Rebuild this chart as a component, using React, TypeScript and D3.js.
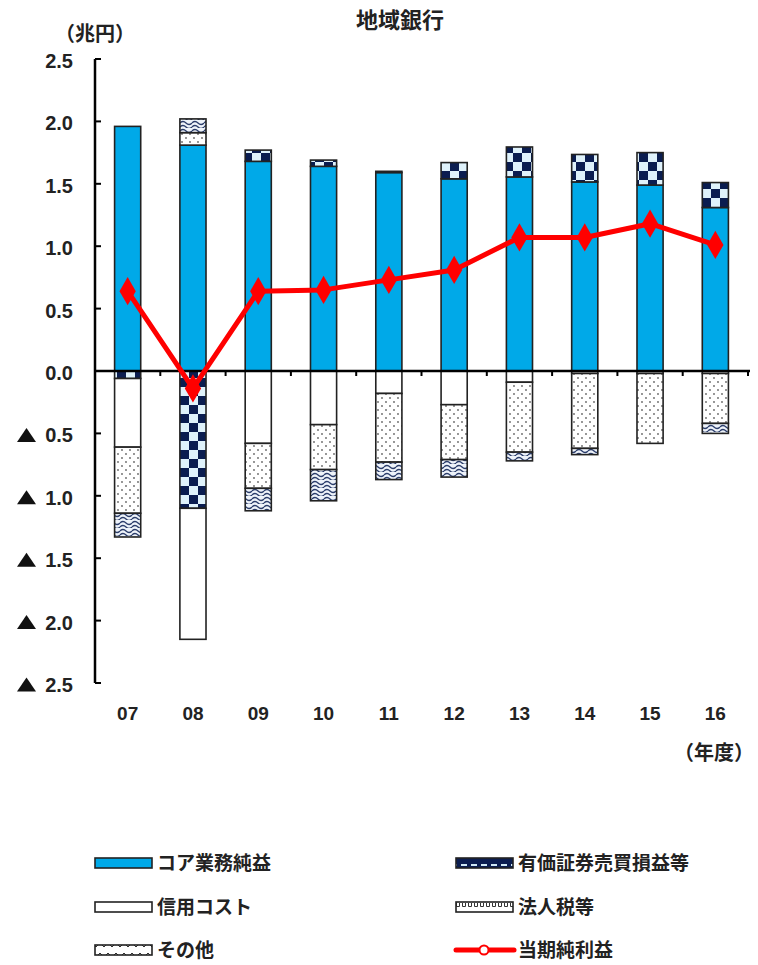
import React from "react";
import * as d3 from "d3";

const years = ["07", "08", "09", "10", "11", "12", "13", "14", "15", "16"];
const core = [1.96, 1.81, 1.68, 1.64, 1.59, 1.54, 1.555, 1.515, 1.49, 1.31];
const securities = [-0.06, -1.1, 0.09, 0.05, 0.01, 0.13, 0.24, 0.22, 0.26, 0.2];
const credit = [-0.55, -1.05, -0.58, -0.43, -0.18, -0.27, -0.09, -0.02, -0.02, -0.02];
const tax = [-0.53, 0.1, -0.36, -0.36, -0.55, -0.44, -0.56, -0.6, -0.56, -0.4];
const other = [-0.19, 0.11, -0.18, -0.25, -0.14, -0.14, -0.07, -0.05, 0, -0.08];
const netIncome = [0.64, -0.14, 0.64, 0.65, 0.73, 0.81, 1.07, 1.07, 1.18, 1.01];
const yTicks = [2.5, 2.0, 1.5, 1.0, 0.5, 0, -0.5, -1.0, -1.5, -2.0, -2.5];

const seriesKeys = ["core", "securities", "credit", "tax", "other"];
const seriesNames: Record<string, string> = {
  core: "コア業務純益",
  securities: "有価証券売買損益等",
  credit: "信用コスト",
  tax: "法人税等",
  other: "その他",
};
const fills: Record<string, string> = {
  core: "#00a9e8",
  securities: "url(#pSec)",
  credit: "#ffffff",
  tax: "url(#pTax)",
  other: "url(#pOther)",
};
const legendFills: Record<string, string> = {
  core: "#00a9e8",
  securities: "url(#pSecL)",
  credit: "#ffffff",
  tax: "url(#pTaxL)",
  other: "url(#pOtherL)",
};

const FONT = "'Liberation Sans', Arial, sans-serif";
const JFONT = "'Noto Sans CJK JP', 'Liberation Sans', sans-serif";

export default function App() {
  const W = 758, H = 965;
  const x0 = 95, x1 = 748;
  const y = d3.scaleLinear().domain([-2.5, 2.5]).range([683, 59]);
  const x = d3.scaleBand<string>().domain(years).range([x0, x1]).paddingInner(0.6).paddingOuter(0.3);
  const band = d3.scaleBand<string>().domain(years).range([x0, x1]);
  const cx = (yr: string) => (x(yr) as number) + x.bandwidth() / 2;

  const rows = years.map((yr, i) => ({
    year: yr,
    core: core[i],
    securities: securities[i],
    credit: credit[i],
    tax: tax[i],
    other: other[i],
  }));
  const stack = d3
    .stack<any>()
    .keys(seriesKeys)
    .order(d3.stackOrderNone)
    .offset(d3.stackOffsetDiverging);
  const stacked = stack(rows);

  const line = d3
    .line<number>()
    .x((_, i) => cx(years[i]))
    .y((d) => y(d));

  const diamond = d3.symbol().type(d3.symbolDiamond).size(230)();

  const legendLeft = [
    { key: "core", y: 863 },
    { key: "credit", y: 907 },
    { key: "other", y: 950 },
  ];
  const legendRight = [
    { key: "securities", y: 863 },
    { key: "tax", y: 907 },
  ];

  return (
    <svg width={W} height={H} style={{ display: "block", position: "absolute", left: 0, top: 0 }}>
      <defs>
        <pattern id="pSec" width="18" height="18" patternUnits="userSpaceOnUse" x={0} y={0}>
          <rect width="18" height="18" fill="#dff2fb" />
          <rect width="9" height="9" fill="#0b1d50" />
          <rect x="9" y="9" width="9" height="9" fill="#0b1d50" />
        </pattern>
        <pattern id="pTax" width="8" height="8" patternUnits="userSpaceOnUse">
          <rect width="8" height="8" fill="#ffffff" />
          <circle cx="2" cy="2" r="0.9" fill="#666" />
          <circle cx="6" cy="6" r="0.9" fill="#666" />
        </pattern>
        <pattern id="pOther" width="12" height="8" patternUnits="userSpaceOnUse">
          <rect width="12" height="8" fill="#eef3fa" />
          <path d="M0,3 Q3,0 6,3 T12,3" stroke="#2b3d6b" strokeWidth="1.3" fill="none" />
          <path d="M0,7 Q3,4 6,7 T12,7" stroke="#2b3d6b" strokeWidth="1.3" fill="none" />
        </pattern>
        <pattern id="pSecL" width="10" height="10" patternUnits="userSpaceOnUse">
          <rect width="10" height="10" fill="#0b1d50" />
          <rect x="1" y="4" width="6" height="2" fill="#cfe8f5" />
        </pattern>
        <pattern id="pTaxL" width="6" height="10" patternUnits="userSpaceOnUse">
          <rect width="6" height="10" fill="#ffffff" />
          <path d="M0.5,3 V6.5 H3.5 V3" stroke="#333" strokeWidth="1" fill="none" />
        </pattern>
        <pattern id="pOtherL" width="8" height="10" patternUnits="userSpaceOnUse">
          <rect width="8" height="10" fill="#ffffff" />
          <path d="M0,7 L4,3 L8,7" stroke="#333" strokeWidth="1" fill="none" />
        </pattern>
      </defs>

      {/* title */}
      <text x={400} y={28} textAnchor="middle" fontFamily={JFONT} fontWeight="bold" fontSize={22} fill="#222">
        地域銀行
      </text>
      <text x={95} y={41} textAnchor="middle" fontFamily={JFONT} fontWeight="bold" fontSize={20} fill="#222">
        （兆円）
      </text>

      {/* bars */}
      {stacked.map((s) =>
        s.map((d, i) => {
          const h = Math.abs(y(d[0]) - y(d[1]));
          if (h < 0.5) return null;
          return (
            <rect
              key={s.key + i}
              x={x(years[i])}
              y={Math.min(y(d[0]), y(d[1]))}
              width={x.bandwidth()}
              height={h}
              fill={fills[s.key]}
              stroke="#222"
              strokeWidth={1.6}
            />
          );
        })
      )}

      {/* y axis */}
      <line x1={x0} x2={x0} y1={y(2.5)} y2={y(-2.5)} stroke="#000" strokeWidth={2.5} />
      {yTicks.map((t) => (
        <g key={t}>
          <line x1={x0} x2={x0 + 6} y1={y(t)} y2={y(t)} stroke="#000" strokeWidth={2} />
          <text
            x={73}
            y={y(t) + 9}
            textAnchor="end"
            fontFamily={FONT}
            fontWeight="bold"
            fontSize={20}
            fill="#222"
          >
            {Math.abs(t).toFixed(1)}
          </text>
          {t < 0 && (
            <path
              d={`M${17},${y(t) + 8.5} L${36},${y(t) + 8.5} L${26.5},${y(t) - 5.5} Z`}
              fill="#111"
            />
          )}
        </g>
      ))}

      {/* x axis */}
      <line x1={x0} x2={x1 + 2} y1={y(0)} y2={y(0)} stroke="#000" strokeWidth={2.5} />
      {years.map((yr) => (
        <line
          key={"t" + yr}
          x1={(band(yr) as number) + band.bandwidth()}
          x2={(band(yr) as number) + band.bandwidth()}
          y1={y(0)}
          y2={y(0) + 5}
          stroke="#000"
          strokeWidth={2}
        />
      ))}
      {years.map((yr) => (
        <text
          key={"l" + yr}
          x={cx(yr)}
          y={720}
          textAnchor="middle"
          fontFamily={FONT}
          fontWeight="bold"
          fontSize={19}
          fill="#222"
        >
          {yr}
        </text>
      ))}
      <text x={714} y={760} textAnchor="middle" fontFamily={JFONT} fontWeight="bold" fontSize={20} fill="#222">
        （年度）
      </text>

      {/* net income line */}
      <path d={line(netIncome) || ""} fill="none" stroke="#ff0000" strokeWidth={5} strokeLinejoin="round" />
      {netIncome.map((v, i) => (
        <path key={"m" + i} d={diamond || ""} transform={`translate(${cx(years[i])},${y(v)})`} fill="#ff0000" />
      ))}

      {/* legend */}
      {legendLeft.map((l) => (
        <g key={l.key}>
          <rect x={95} y={l.y - 5} width={57} height={10} fill={legendFills[l.key]} stroke="#222" strokeWidth={1.6} />
          <text x={157} y={l.y + 7} fontFamily={JFONT} fontWeight="bold" fontSize={19} fill="#222">
            {seriesNames[l.key]}
          </text>
        </g>
      ))}
      {legendRight.map((l) => (
        <g key={l.key}>
          <rect x={456} y={l.y - 5} width={57} height={10} fill={legendFills[l.key]} stroke="#222" strokeWidth={1.6} />
          <text x={518} y={l.y + 7} fontFamily={JFONT} fontWeight="bold" fontSize={19} fill="#222">
            {seriesNames[l.key]}
          </text>
        </g>
      ))}
      <g>
        <line x1={456} x2={514} y1={950} y2={950} stroke="#ff0000" strokeWidth={5} strokeLinecap="round" />
        <circle cx={484} cy={950} r={4.5} fill="#fff" stroke="#ff0000" strokeWidth={2} />
        <text x={518} y={957} fontFamily={JFONT} fontWeight="bold" fontSize={19} fill="#222">
          当期純利益
        </text>
      </g>
    </svg>
  );
}
